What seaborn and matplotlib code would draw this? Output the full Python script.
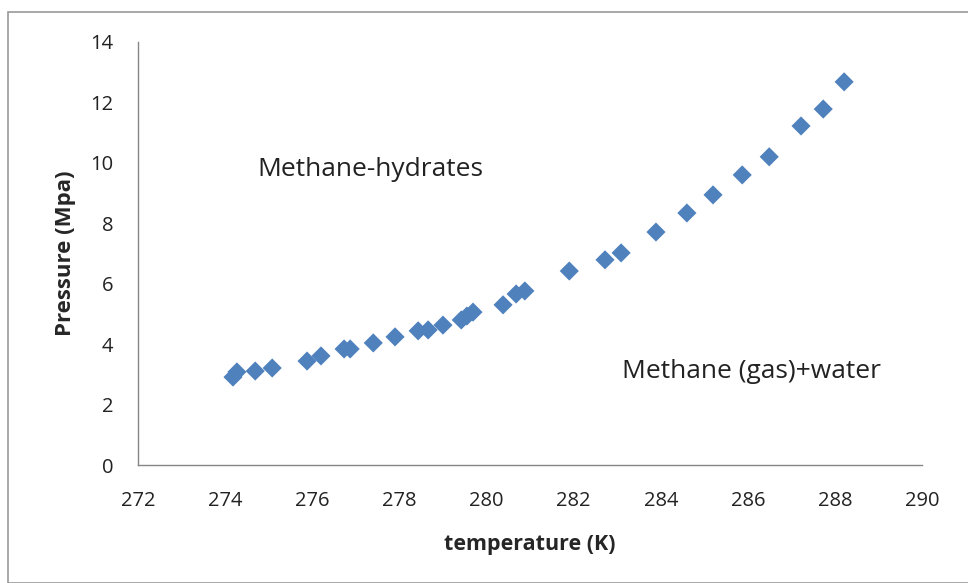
import numpy as np
import pandas as pd
import matplotlib
matplotlib.use("Agg")
import matplotlib.pyplot as plt
import seaborn as sns
from matplotlib.patches import Rectangle

# data
temperature = [274.18, 274.27, 274.69, 275.08, 275.88, 276.2, 276.73, 276.87,
               277.4, 277.9, 278.43, 278.66, 279.0, 279.42, 279.55, 279.69,
               280.38, 280.68, 280.88, 281.9, 282.72, 283.09, 283.89, 284.6,
               285.2, 285.87, 286.49, 287.22, 287.73, 288.21]
pressure = [2.91, 3.08, 3.11, 3.21, 3.44, 3.61, 3.84, 3.84,
            4.04, 4.24, 4.44, 4.47, 4.63, 4.8, 4.93, 5.06,
            5.30, 5.66, 5.76, 6.42, 6.79, 7.02, 7.71, 8.34,
            8.94, 9.6, 10.2, 11.22, 11.78, 12.68]
x_ticks = [272, 274, 276, 278, 280, 282, 284, 286, 288, 290]
y_ticks = [0, 2, 4, 6, 8, 10, 12, 14]

df = pd.DataFrame({"temperature": temperature, "pressure": pressure})

sns.set_style("white")
plt.rcParams['font.family'] = ['Open Sans', 'DejaVu Sans']

fig = plt.figure(figsize=(9.68, 5.83), dpi=100)
ax = fig.add_axes([0.1426, 0.2024, 0.81, 0.7256])

# outer chart border like excel
fig.patches.append(Rectangle((0.008, 0.0), 1.2, 0.979, transform=fig.transFigure,
                             fill=False, edgecolor="#9a9a9a", linewidth=1.2))

sns.scatterplot(data=df, x="temperature", y="pressure", marker="D", s=95,
                color="#4F81BD", edgecolor="none", ax=ax)

ax.set_xlim(272, 290)
ax.set_ylim(0, 14)
ax.set_xticks(x_ticks)
ax.set_yticks(y_ticks)
ax.tick_params(axis="both", direction="out", length=6, width=1, color="#868686",
               labelsize=14.5, labelcolor="#222222")
ax.tick_params(axis="x", pad=13)
ax.tick_params(axis="y", pad=12)

for side in ["top", "right"]:
    ax.spines[side].set_visible(False)
for side in ["left", "bottom"]:
    ax.spines[side].set_color("#868686")
    ax.spines[side].set_linewidth(1)

ax.set_xlabel("temperature (K)", fontsize=15.5, fontweight="bold", labelpad=16)
ax.set_ylabel("Pressure (Mpa)", fontsize=16, fontweight="bold", labelpad=10)

ax.text(274.73, 9.77, "Methane-hydrates", fontsize=19, va="center", color="#222222")
ax.text(283.11, 3.08, "Methane (gas)+water", fontsize=19, va="center", color="#222222")

fig.savefig("out.png", dpi=100)
